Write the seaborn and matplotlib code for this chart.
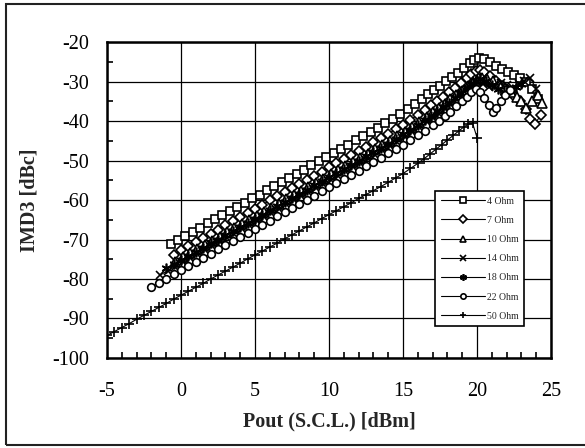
import matplotlib
matplotlib.use("Agg")
import numpy as np
import pandas as pd
import seaborn as sns
import matplotlib.pyplot as plt
from matplotlib.patches import Rectangle

# Pout (S.C.L.) [dBm] and IMD3 [dBc], one pair of lists per load
x_4ohm = [-0.7, -0.2, 0.3, 0.8, 1.3, 1.8, 2.3, 2.8, 3.3, 3.8,
          4.3, 4.8, 5.3, 5.8, 6.3, 6.8, 7.3, 7.8, 8.3, 8.8,
          9.3, 9.8, 10.3, 10.8, 11.3, 11.8, 12.3, 12.8, 13.3, 13.8,
          14.3, 14.8, 15.3, 15.8, 16.3, 16.7, 17.1, 17.5, 17.9, 18.3,
          18.7, 19.1, 19.5, 19.8, 20.1, 20.5, 20.9, 21.3, 21.7, 22.1,
          22.5, 22.9, 23.3, 23.7, 24.1]
y_4ohm = [-71.1, -70.2, -69.0, -68.1, -67.0, -65.9, -64.9, -63.8, -62.8, -61.7,
          -60.7, -59.6, -58.6, -57.5, -56.5, -55.4, -54.4, -53.3, -52.3, -51.2,
          -50.2, -49.1, -48.1, -47.0, -46.0, -44.9, -43.8, -42.8, -41.7, -40.6,
          -39.5, -38.3, -37.0, -35.7, -34.3, -33.2, -32.1, -31.0, -29.9, -28.8,
          -27.7, -26.6, -25.4, -24.6, -24.0, -24.3, -25.1, -26.0, -26.9, -27.6,
          -28.3, -29.0, -30.2, -32.0, -34.5]

x_7ohm = [-0.5, 0.0, 0.5, 1.0, 1.5, 2.0, 2.5, 3.0, 3.5, 4.0,
          4.5, 5.0, 5.5, 6.0, 6.5, 7.0, 7.5, 8.0, 8.5, 9.0,
          9.5, 10.0, 10.5, 11.0, 11.5, 12.0, 12.5, 13.0, 13.5, 14.0,
          14.5, 15.0, 15.5, 16.0, 16.5, 16.9, 17.3, 17.7, 18.1, 18.5,
          18.9, 19.3, 19.6, 19.9, 20.2, 20.5, 20.9, 21.3, 21.7, 22.1,
          22.5, 22.9, 23.3, 23.6, 23.9, 24.3]
y_7ohm = [-73.8, -72.7, -71.7, -70.6, -69.6, -68.5, -67.5, -66.4, -65.4, -64.3,
          -63.3, -62.2, -61.2, -60.1, -59.1, -58.0, -57.0, -55.9, -54.9, -53.8,
          -52.8, -51.7, -50.7, -49.6, -48.6, -47.5, -46.5, -45.4, -44.3, -43.2,
          -42.1, -40.9, -39.7, -38.4, -37.1, -36.0, -34.9, -33.8, -32.7, -31.6,
          -30.4, -29.2, -28.2, -27.4, -27.0, -27.6, -28.6, -29.8, -31.0, -32.3,
          -33.6, -35.0, -37.0, -39.5, -40.8, -38.5]

x_10ohm = [-0.4, 0.1, 0.6, 1.1, 1.6, 2.1, 2.6, 3.1, 3.6, 4.1,
           4.6, 5.1, 5.6, 6.1, 6.6, 7.1, 7.6, 8.1, 8.6, 9.1,
           9.6, 10.1, 10.6, 11.1, 11.6, 12.1, 12.6, 13.1, 13.6, 14.1,
           14.6, 15.1, 15.6, 16.1, 16.6, 17.0, 17.4, 17.8, 18.2, 18.6,
           19.0, 19.4, 19.7, 20.0, 20.3, 20.7, 21.1, 21.5, 21.9, 22.3,
           22.7, 23.0, 23.3, 23.7, 24.1, 24.4]
y_10ohm = [-75.6, -74.5, -73.5, -72.4, -71.4, -70.3, -69.3, -68.2, -67.2, -66.1,
           -65.1, -64.0, -63.0, -61.9, -60.9, -59.8, -58.8, -57.7, -56.7, -55.6,
           -54.6, -53.5, -52.5, -51.4, -50.4, -49.3, -48.3, -47.2, -46.1, -45.0,
           -43.9, -42.7, -41.5, -40.2, -38.9, -37.8, -36.7, -35.6, -34.5, -33.4,
           -32.3, -31.1, -30.2, -29.5, -29.0, -29.3, -29.9, -30.6, -31.5, -32.6,
           -33.8, -34.8, -36.6, -35.0, -33.3, -35.3]

x_14ohm = [-1.4, -0.9, -0.4, 0.1, 0.6, 1.1, 1.6, 2.1, 2.6, 3.1,
           3.6, 4.1, 4.6, 5.1, 5.6, 6.1, 6.6, 7.1, 7.6, 8.1,
           8.6, 9.1, 9.6, 10.1, 10.6, 11.1, 11.6, 12.1, 12.6, 13.1,
           13.6, 14.1, 14.6, 15.1, 15.6, 16.1, 16.6, 17.0, 17.4, 17.8,
           18.2, 18.6, 19.0, 19.4, 19.7, 20.0, 20.4, 20.8, 21.2, 21.6,
           22.0, 22.4, 22.8, 23.2, 23.6, 24.0]
y_14ohm = [-79.0, -77.9, -76.9, -75.8, -74.8, -73.7, -72.7, -71.6, -70.6, -69.5,
           -68.5, -67.4, -66.4, -65.3, -64.3, -63.2, -62.2, -61.1, -60.1, -59.0,
           -58.0, -56.9, -55.9, -54.8, -53.8, -52.7, -51.7, -50.6, -49.6, -48.5,
           -47.4, -46.3, -45.2, -44.0, -42.8, -41.6, -40.3, -39.2, -38.1, -36.9,
           -35.7, -34.5, -33.2, -31.9, -30.9, -30.2, -30.6, -31.4, -31.0, -30.4,
           -30.8, -31.5, -30.7, -29.8, -29.2, -31.8]

x_18ohm = [-1.0, -0.5, 0.0, 0.5, 1.0, 1.5, 2.0, 2.5, 3.0, 3.5,
           4.0, 4.5, 5.0, 5.5, 6.0, 6.5, 7.0, 7.5, 8.0, 8.5,
           9.0, 9.5, 10.0, 10.5, 11.0, 11.5, 12.0, 12.5, 13.0, 13.5,
           14.0, 14.5, 15.0, 15.5, 16.0, 16.5, 16.9, 17.3, 17.7, 18.1,
           18.5, 18.9, 19.3, 19.6, 19.9, 20.2, 20.6, 21.0, 21.4, 21.8,
           22.2, 22.6, 23.0]
y_18ohm = [-77.3, -76.3, -75.2, -74.2, -73.1, -72.1, -71.0, -70.0, -68.9, -67.9,
           -66.8, -65.8, -64.7, -63.7, -62.6, -61.6, -60.5, -59.5, -58.4, -57.4,
           -56.3, -55.3, -54.2, -53.2, -52.1, -51.1, -50.0, -48.9, -47.9, -46.8,
           -45.7, -44.6, -43.4, -42.2, -41.0, -39.7, -38.6, -37.5, -36.4, -35.3,
           -34.1, -32.9, -31.7, -30.6, -29.8, -29.4, -29.9, -30.8, -31.9, -32.6,
           -32.1, -31.3, -30.6]

x_22ohm = [-2.0, -1.5, -1.0, -0.5, 0.0, 0.5, 1.0, 1.5, 2.0, 2.5,
           3.0, 3.5, 4.0, 4.5, 5.0, 5.5, 6.0, 6.5, 7.0, 7.5,
           8.0, 8.5, 9.0, 9.5, 10.0, 10.5, 11.0, 11.5, 12.0, 12.5,
           13.0, 13.5, 14.0, 14.5, 15.0, 15.5, 16.0, 16.5, 17.0, 17.4,
           17.8, 18.2, 18.6, 19.0, 19.3, 19.6, 19.9, 20.2, 20.5, 20.8,
           21.1, 21.3, 21.6, 21.9, 22.2]
y_22ohm = [-82.0, -80.9, -79.9, -78.8, -77.8, -76.7, -75.7, -74.6, -73.6, -72.5,
           -71.5, -70.4, -69.4, -68.3, -67.3, -66.2, -65.2, -64.1, -63.1, -62.0,
           -61.0, -59.9, -58.9, -57.8, -56.8, -55.7, -54.7, -53.6, -52.6, -51.5,
           -50.4, -49.3, -48.2, -47.1, -46.0, -44.8, -43.6, -42.4, -41.1, -40.0,
           -38.8, -37.6, -36.3, -35.0, -33.8, -32.6, -31.8, -32.6, -34.2, -35.9,
           -37.7, -36.8, -35.0, -33.4, -32.2]

x_50ohm = [-5.0, -4.5, -4.0, -3.5, -3.0, -2.5, -2.0, -1.5, -1.0, -0.5,
           0.0, 0.5, 1.0, 1.5, 2.0, 2.5, 3.0, 3.5, 4.0, 4.5,
           5.0, 5.5, 6.0, 6.5, 7.0, 7.5, 8.0, 8.5, 9.0, 9.5,
           10.0, 10.5, 11.0, 11.5, 12.0, 12.5, 13.0, 13.5, 14.0, 14.5,
           15.0, 15.5, 16.0, 16.4, 16.8, 17.2, 17.6, 18.0, 18.4, 18.8,
           19.1, 19.4, 19.7, 20.0]
y_50ohm = [-94.3, -93.3, -92.3, -91.3, -90.2, -89.2, -88.2, -87.2, -86.2, -85.1,
           -84.1, -83.1, -82.1, -81.1, -80.0, -79.0, -78.0, -77.0, -76.0, -74.9,
           -73.9, -72.9, -71.9, -70.9, -69.8, -68.8, -67.8, -66.8, -65.8, -64.7,
           -63.7, -62.7, -61.7, -60.7, -59.6, -58.6, -57.6, -56.6, -55.5, -54.4,
           -53.3, -52.0, -50.7, -49.6, -48.4, -47.2, -46.0, -44.8, -43.6, -42.4,
           -41.5, -40.8, -40.6, -44.2]

labels = ["4 Ohm", "7 Ohm", "10 Ohm", "14 Ohm", "18 Ohm", "22 Ohm", "50 Ohm"]
xs_all = [x_4ohm, x_7ohm, x_10ohm, x_14ohm, x_18ohm, x_22ohm, x_50ohm]
ys_all = [y_4ohm, y_7ohm, y_10ohm, y_14ohm, y_18ohm, y_22ohm, y_50ohm]
markers = ["s", "D", "^", "x", (6, 2, 0), "o", "+"]
msizes = [6, 5.5, 6.5, 5.5, 7, 5.5, 6.5]

sns.set_theme(style="white")
plt.rcParams["font.family"] = ["Liberation Serif", "DejaVu Serif"]
plt.rcParams["axes.unicode_minus"] = False

fig = plt.figure(figsize=(5.85, 4.48), dpi=100)
ax = fig.add_axes([0.183, 0.201, 0.759, 0.705])

for name, xs, ys, mk, ms in zip(labels, xs_all, ys_all, markers, msizes):
    sns.lineplot(x=xs, y=ys, ax=ax, sort=False, color="black", lw=0.8,
                 marker=mk, markersize=ms, markerfacecolor="white",
                 markeredgecolor="black", markeredgewidth=1.2, label=name)

ax.set_xlim(-5, 25)
ax.set_ylim(-100, -20)
ax.set_xticks(np.arange(-5, 26, 5))
ax.set_xticks(np.arange(-5, 26, 1), minor=True)
ax.set_yticks(np.arange(-100, -19, 10))
ax.set_yticks(np.arange(-100, -19, 5), minor=True)
ax.tick_params(which="major", length=0, labelsize=14.5, colors="black")
ax.tick_params(axis="x", which="major", pad=17)
ax.tick_params(axis="y", which="major", pad=13)
ax.tick_params(which="minor", direction="in", length=4, width=1.2, color="black",
               bottom=True, left=True)
ax.grid(True, which="major", color="black", lw=0.9)
for sp in ax.spines.values():
    sp.set_color("black")
    sp.set_linewidth(1.8)

ax.set_xlabel("Pout (S.C.L.) [dBm]", fontsize=14.5, fontweight="bold", labelpad=8)
ax.set_ylabel("IMD3 [dBc]", fontsize=14.5, fontweight="bold", labelpad=9)

leg = ax.legend(loc="upper left", bbox_to_anchor=(0.739, 0.528), borderaxespad=0,
                fontsize=7, frameon=True, fancybox=False, edgecolor="black",
                framealpha=1, handlelength=4.6, handletextpad=0.15,
                labelspacing=1.05, borderpad=0.55, markerscale=0.7)
leg.get_frame().set_linewidth(1.2)

# outer frame around the whole chart
fig.patches.append(Rectangle((6 / 585, 3 / 448), 1.2, 441 / 448, transform=fig.transFigure,
                             fill=False, ec="#222222", lw=1.5))

fig.savefig("out.png", dpi=100)
